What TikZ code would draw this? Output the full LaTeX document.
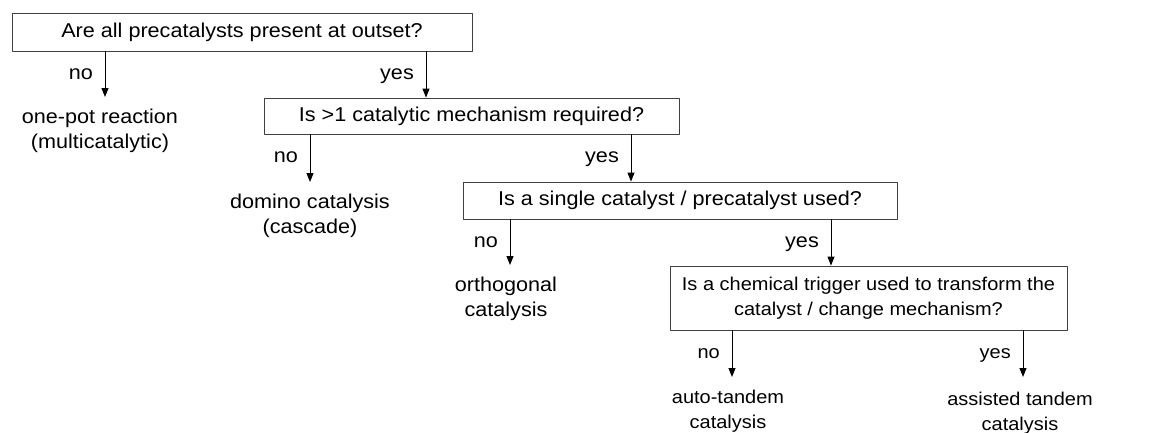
\documentclass[tikz,border=0pt]{standalone}
\usepackage{fontspec}
\setmainfont{Liberation Sans}[FakeStretch=1.08]
\usepackage{tikz}
\usetikzlibrary{arrows.meta,positioning}

\tikzset{
  question/.style={draw=black!75,line width=0.9pt,align=center,inner sep=0pt},
  answer/.style={align=center,inner sep=0pt,anchor=north},
  branch/.style={-{Triangle[length=9pt,width=7pt]},line width=1pt},
  choice/.style={anchor=base east,inner sep=0pt},
  smalltext/.style={font=\fontsize{18.5}{25}\selectfont},
}

\begin{document}
\begin{tikzpicture}[x=1pt,y=-1pt,font=\fontsize{20}{25}\selectfont,line join=round]
  \useasboundingbox (0,0) rectangle (1152,432);

  % ---------- question boxes ----------
  \node[question,minimum width=460pt,minimum height=38pt] (q1) at (242,32)
    {Are all precatalysts present at outset?};
  \node[question,minimum width=415pt,minimum height=36pt] (q2) at (471.5,116)
    {Is >1 catalytic mechanism required?};
  \node[question,minimum width=434pt,minimum height=37pt] (q3) at (680,200.5)
    {Is a single catalyst / precatalyst used?};
  \node[question,smalltext,minimum width=397pt,minimum height=64pt] (q4) at (868.5,298)
    {Is a chemical trigger used to transform the\\catalyst / change mechanism?};

  % ---------- end points of the "no" branches ----------
  \coordinate (n1) at (105,97);
  \coordinate (n2) at (310,182);
  \coordinate (n3) at (510,265);
  \coordinate (n4) at (732,377);
  \coordinate (y4) at (1023,377);

  % ---------- outcomes ----------
  \node[answer] (a1) at (100,109)  {one-pot reaction\\(multicatalytic)};
  \node[answer] (a2) at (310,194)  {domino catalysis\\(cascade)};
  \node[answer] (a3) at (506,277)  {orthogonal\\catalysis};
  \node[answer,smalltext] (a4) at (728,390)  {auto-tandem\\catalysis};
  \node[answer,smalltext] (a5) at (1020,392) {assisted tandem\\catalysis};

  % ---------- branches ----------
  \draw[branch] (q1.south -| n1) -- (n1);
  \draw[branch] (q1.south -| 426,0) -- (q2.north -| 426,0);
  \draw[branch] (q2.south -| n2) -- (n2);
  \draw[branch] (q2.south -| 631,0) -- (q3.north -| 631,0);
  \draw[branch] (q3.south -| n3) -- (n3);
  \draw[branch] (q3.south -| 831,0) -- (q4.north -| 831,0);
  \draw[branch] (q4.south -| n4) -- (n4);
  \draw[branch] (q4.south -| y4) -- (y4);

  % ---------- branch labels ----------
  \node[choice] (no1)  at (93,79)    {no};
  \node[choice] (yes1) at (414,79)   {yes};
  \node[choice] (no2)  at (298,162)  {no};
  \node[choice] (yes2) at (619,162)  {yes};
  \node[choice] (no3)  at (498,247)  {no};
  \node[choice] (yes3) at (819,247)  {yes};
  \node[choice,smalltext] (no4)  at (720,358)  {no};
  \node[choice,smalltext] (yes4) at (1011,358) {yes};
\end{tikzpicture}
\end{document}
